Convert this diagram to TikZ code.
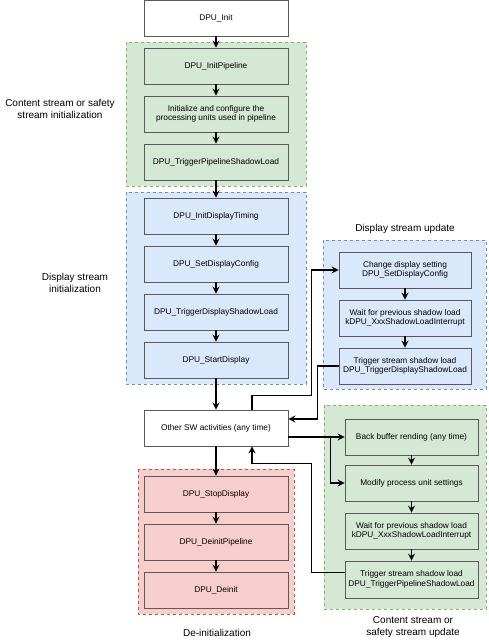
\documentclass[tikz,border=0pt]{standalone}
\usepackage{fontspec}
\setmainfont{Liberation Sans}
\usetikzlibrary{arrows.meta,positioning}

\definecolor{grnfill}{HTML}{D5E8D4}
\definecolor{grnline}{HTML}{82B366}
\definecolor{bluefill}{HTML}{DAE8FC}
\definecolor{blueline}{HTML}{6C8EBF}
\definecolor{redfill}{HTML}{F8CECC}
\definecolor{redline}{HTML}{B85450}
\definecolor{boxline}{HTML}{5A5A5A}

\tikzset{
  box/.style={draw=boxline,line width=0.9pt,minimum width=144pt,minimum height=36pt,
    inner sep=1pt,align=center,font=\fontsize{8.3}{9.6}\selectfont},
  rbox/.style={box,minimum width=133pt},
  grp/.style={line width=0.9pt,dash pattern=on 3pt off 3pt},
  lbl/.style={align=center,font=\fontsize{10}{12}\selectfont},
  arr/.style={line width=1.2pt,-{Stealth[length=7pt,width=7pt,inset=2.5pt]}}
}

\begin{document}
\begin{tikzpicture}[x=1pt,y=-1pt]
\useasboundingbox (0,0) rectangle (488,640);

% groups
\draw[grp,draw=grnline,fill=grnfill] (126,42) rectangle (306,186);
\draw[grp,draw=blueline,fill=bluefill] (126,192) rectangle (306,384);
\draw[grp,draw=redline,fill=redfill] (138,469) rectangle (294,614);
\draw[grp,draw=blueline,fill=bluefill] (323,240) rectangle (486,389);
\draw[grp,draw=grnline,fill=grnfill] (324,405) rectangle (486,609);

% left column
\node[box,fill=white] (init) at (216,18) {DPU\_Init};

\def\cphr{1/{DPU\_InitPipeline},2/{Initialize and configure the\\processing units used in pipeline},3/{DPU\_TriggerPipelineShadowLoad}}
\foreach \i / \element in \cphr
  \node[box,fill=grnfill] (c\i) at (216,18+48*\i) {\element};

\def\dphr{1/{DPU\_InitDisplayTiming},2/{DPU\_SetDisplayConfig},3/{DPU\_TriggerDisplayShadowLoad},4/{DPU\_StartDisplay}}
\foreach \i / \element in \dphr
  \node[box,fill=bluefill] (d\i) at (216,168+48*\i) {\element};

\node[box,fill=white] (sw) at (216,428) {Other SW activities (any time)};

\def\rphr{1/{DPU\_StopDisplay},2/{DPU\_DeinitPipeline},3/{DPU\_Deinit}}
\foreach \i / \element in \rphr
  \node[box,fill=redfill] (r\i) at (216,446+48*\i) {\element};

% right column
\def\uphr{1/{Change display setting\\DPU\_SetDisplayConfig},2/{Wait for previous shadow load\\kDPU\_XxxShadowLoadInterrupt},3/{Trigger stream shadow load\\DPU\_TriggerDisplayShadowLoad}}
\foreach \i / \element in \uphr
  \node[box,minimum width=132pt,fill=bluefill] (u\i) at (405,222+48*\i) {\element};

\node[rbox,fill=grnfill] (g1) at (411.5,437) {Back buffer rending (any time)};
\node[rbox,fill=grnfill] (g2) at (411.5,483) {Modify process unit settings};
\node[rbox,fill=grnfill] (g3) at (411.5,531) {Wait for previous shadow load\\kDPU\_XxxShadowLoadInterrupt};
\node[rbox,fill=grnfill,minimum height=37pt] (g4) at (411.5,579.5) {Trigger stream shadow load\\DPU\_TriggerPipelineShadowLoad};

% labels
\node[lbl] (lcinit) at (60,109) {Content stream or safety\\stream initialization};
\node[lbl] (ldinit) at (75,283) {Display stream\\initialization};
\node[lbl] (ldupd) at (405,229) {Display stream update};
\node[lbl] (lcupd) at (413,627) {Content stream or\\safety stream update};
\node[lbl] (ldeinit) at (217,633) {De-initialization};

% vertical flow
\draw[arr] (init) -- (c1);
\draw[arr] (c1) -- (c2);
\draw[arr] (c2) -- (c3);
\draw[arr] (c3) -- (d1);
\draw[arr] (d1) -- (d2);
\draw[arr] (d2) -- (d3);
\draw[arr] (d3) -- (d4);
\draw[arr] (d4) -- (sw);
\draw[arr] (sw) -- (r1);
\draw[arr] (r1) -- (r2);
\draw[arr] (r2) -- (r3);
\draw[arr] (u1) -- (u2);
\draw[arr] (u2) -- (u3);
\draw[arr] (g1) -- (g2);
\draw[arr] (g2) -- (g3);
\draw[arr] (g3) -- (g4);

% loops
\draw[arr] ([xshift=36pt]sw.north) -- ++(0,-14) -| ([xshift=-27pt]u1.west) -- (u1.west);
\draw[arr] (u3.west) -- ++(-21,0) |- ([yshift=9pt]sw.east);
\draw[arr] (sw.east |- g1.west) -- (g1.west);
\draw[arr] ([xshift=-14pt]g1.west) |- (g2.west);
\draw[arr] ([yshift=7pt]g4.west) -- ++(-33,0) -- ++(0,-109) -| ([xshift=36pt]sw.south);

\end{tikzpicture}
\end{document}
